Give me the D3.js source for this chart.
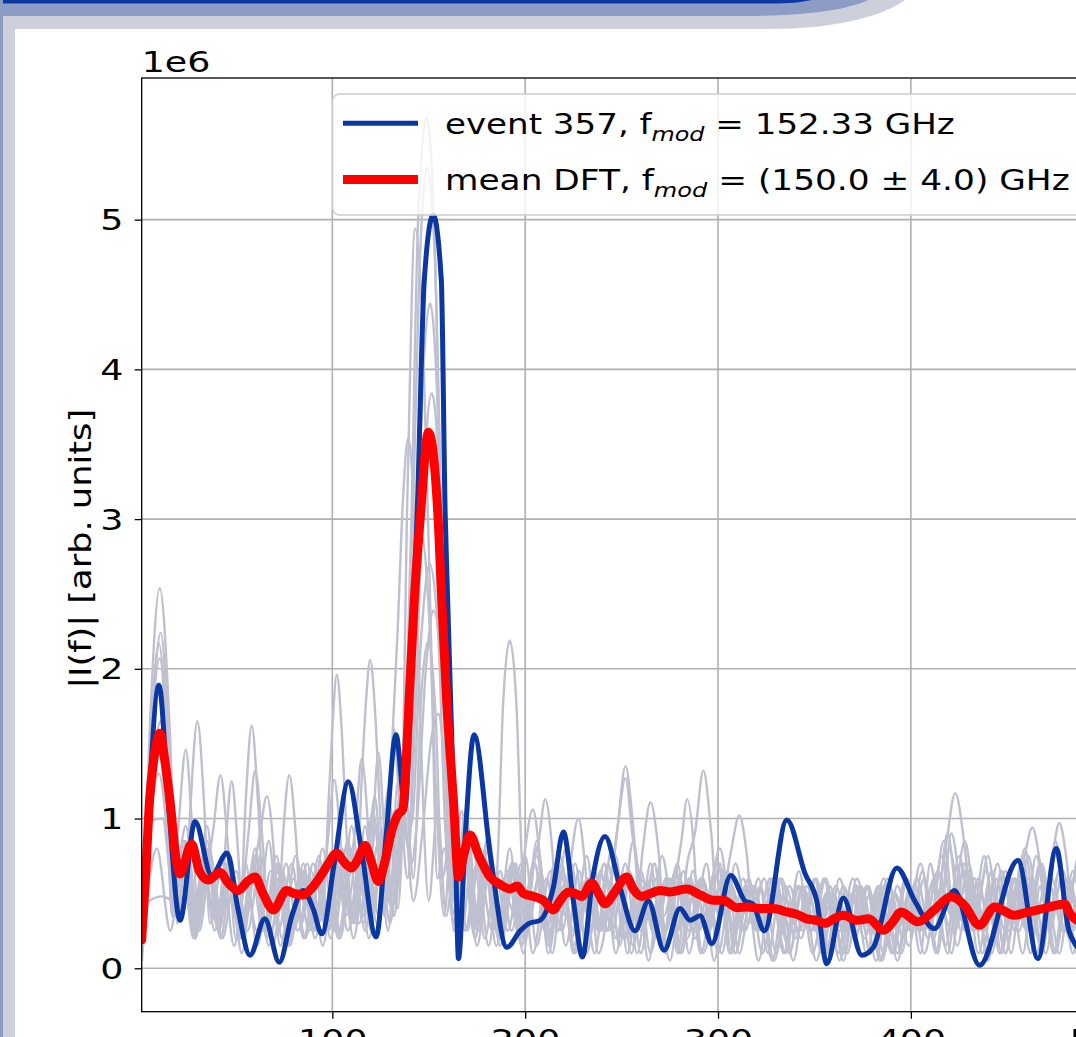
<!DOCTYPE html>
<html><head><meta charset="utf-8">
<script src="https://cdn.jsdelivr.net/npm/d3@7"></script>
<style>html,body{margin:0;padding:0;background:#fff;overflow:hidden}text{font-family:"DejaVu Sans",sans-serif}</style>
</head><body>
<svg id="chart" width="1076" height="1037"></svg>
<script>
// ---------- data (intensity in units of 1e6, frequency in GHz) ----------
const xTicks = [100, 200, 300, 400, 500];
const yTicks = [0, 1, 2, 3, 4, 5];
const yOffsetLabel = "1e6";
const yLabel = "|I(f)| [arb. units]";
const legendPrefix = ["event 357, f", "mean DFT, f"];
const legendSub = ["mod", "mod"];
const legendSuffix = [" = 152.33 GHz", " = (150.0 \u00b1 4.0) GHz"];

const eventTrace = [[1.14,0.2],[4,0.9],[10.1,1.89],[15,1.1],[21,0.32],[28.8,0.98],[37.4,0.62],[45.4,0.77],[51,0.4],[57.3,0.087],[65,0.33],[72.5,0.04],[79,0.35],[84.8,0.52],[90,0.4],[94.5,0.23],[101,0.7],[108.3,1.245],[115,0.8],[122.7,0.21],[128,0.9],[133,1.56],[137.7,1.08],[140,1.6],[142,2.4],[144,3.04],[147.7,4.6],[152.3,5.03],[156.5,4.6],[158.5,3.04],[159.8,2.46],[162,1.5],[164,0.7],[165.4,0.065],[169,0.9],[173.5,1.56],[182,0.75],[190.5,0.14],[197.4,0.25],[202,0.3],[207.7,0.32],[214.6,0.54],[219.8,0.91],[225,0.45],[229.7,0.076],[235,0.6],[241.4,0.88],[249,0.55],[257,0.25],[263.9,0.45],[272,0.12],[280.3,0.40],[285.5,0.32],[290.7,0.35],[296.8,0.165],[306.6,0.62],[314,0.45],[318,0.43],[324,0.25],[335.7,0.99],[345.2,0.63],[351.2,0.45],[356.4,0.03],[365,0.47],[374.6,0.087],[380.6,0.14],[392.7,0.67],[402,0.45],[412.2,0.265],[422.6,0.52],[435.6,0.02],[455.5,0.72],[465.9,0.065],[475.4,0.80],[482,0.25],[490,0.1]];

const meanTrace = [[1.14,0.19],[3.5,0.7],[5.2,1.12],[7.5,1.4],[10.6,1.57],[13,1.4],[15.8,1.12],[19.3,0.7],[21,0.63],[27,0.83],[31,0.65],[35.7,0.59],[41.8,0.64],[46,0.57],[51.2,0.52],[56,0.58],[59.9,0.61],[64,0.5],[69.4,0.39],[76.3,0.52],[80,0.5],[85,0.49],[89,0.53],[93.6,0.61],[98,0.7],[102.3,0.77],[106,0.71],[110,0.67],[113,0.72],[117,0.82],[120,0.72],[123.9,0.58],[127,0.7],[130.8,0.92],[134.2,1.03],[136.5,1.06],[138.2,1.35],[139.8,1.79],[142.5,2.46],[145.8,3.04],[149.8,3.58],[154.7,3.04],[156.7,2.46],[159.3,1.79],[162.8,1.12],[165.4,0.61],[168,0.75],[171.4,0.89],[176,0.75],[181.8,0.61],[187,0.56],[192.2,0.53],[196,0.55],[199,0.5],[204.3,0.48],[209.4,0.455],[214.6,0.39],[218,0.45],[222.4,0.51],[226,0.5],[229.4,0.48],[234.5,0.57],[238,0.5],[241.4,0.43],[246,0.5],[252.7,0.61],[256,0.53],[260.5,0.48],[265,0.5],[270,0.52],[275,0.51],[283.8,0.53],[290.7,0.49],[297.6,0.455],[302.8,0.455],[309.7,0.405],[315,0.41],[321.8,0.40],[328.7,0.40],[335.7,0.376],[341,0.36],[346,0.33],[351,0.32],[355.6,0.30],[360,0.33],[365,0.354],[372,0.32],[378,0.33],[385.8,0.254],[390,0.3],[395,0.376],[403.6,0.31],[412.2,0.39],[420.9,0.477],[427.8,0.42],[435.6,0.287],[443.4,0.41],[453.7,0.354],[459,0.37],[465.9,0.39],[472,0.41],[479.7,0.43],[482.5,0.365],[490,0.3]];

const gray1 = [[1.2,0.1],[5,1.5],[10.5,2.54],[16,1.5],[19.5,0.3],[24,0.75],[29,0.2],[35,0.85],[41,0.3],[47,0.65],[53,0.1],[60,0.8],[66,0.25],[72,0.35],[74.5,0.9],[77.7,1.29],[81,0.9],[84,0.3],[90,0.7],[97,0.25],[105,0.8],[111,0.3],[117,0.95],[123,0.3],[129,1.2],[134,0.4],[138,1.6],[141,3.0],[144.5,5.0],[148.9,5.68],[153,4.9],[156.5,3.0],[160,0.8],[163,0.3],[168,0.9],[173,0.3],[179,0.7],[185,0.15],[191,0.45],[196,0.3],[200,0.8],[204,1.06],[208,0.7],[212,0.15],[218,0.75],[224,0.2],[230,0.55],[236,0.1],[243,0.7],[249,0.15],[256,0.85],[262,0.3],[268,0.6],[275,0.05],[282,0.65],[288,0.2],[295,0.5],[302,0.1],[309,0.7],[316,0.3],[322,0.55],[329,0.05],[336,0.45],[343,0.2],[350,0.6],[357,0.1],[364,0.5],[371,0.2],[378,0.55],[385,0.05],[392,0.5],[399,0.15],[406,0.65],[413,0.1],[420,0.8],[427,0.3],[433,0.6],[440,0.1],[447,0.65],[454,0.3],[461,0.75],[468,0.1],[475,0.85],[482,0.2],[489,0.6],[496,0.15]];
const gray2 = [[1.2,0.3],[5.5,1.4],[11,2.24],[16.5,1.2],[20,0.45],[24,0.5],[26.5,1.1],[30,1.65],[33.5,1.1],[36.5,0.3],[43,0.7],[49,0.15],[55,0.55],[61,0.25],[67,0.85],[73,0.15],[80,0.6],[86,0.2],[93,0.75],[99,0.2],[106,0.7],[112,0.3],[115,1.2],[117.3,1.75],[119.6,2.06],[122,1.75],[124.5,1.1],[127.5,0.4],[132,1.05],[136,0.8],[141,2.6],[145,4.6],[149.2,5.35],[153.3,4.7],[157,2.5],[160.5,0.6],[164,0.45],[169,1.05],[175,0.3],[181,0.9],[187,0.2],[193,0.7],[199,0.1],[206,0.85],[212,0.3],[219,0.65],[225,0.1],[232,0.6],[238,0.25],[245,0.8],[251,0.2],[258,0.55],[264,0.05],[271,0.75],[278,0.25],[285,0.6],[291,0.1],[301,0.8],[308,0.25],[315,0.5],[321,0.05],[328,0.6],[335,0.2],[342,0.65],[349,0.1],[356,0.5],[363,0.25],[370,0.6],[377,0.1],[384,0.5],[391,0.2],[398,0.6],[405,0.1],[410,0.7],[414,0.5],[418,0.8],[423,1.17],[428,0.8],[432,0.3],[438,0.75],[444,0.2],[451,0.6],[458,0.1],[465,0.75],[472,0.25],[479,0.65],[486,0.1],[493,0.6],[500,0.2]];
const gray3 = [[1.2,0.2],[4.5,1.2],[10,2.17],[15.5,1.2],[18.5,0.35],[24,0.65],[30,0.25],[34,0.6],[38,0.9],[42,1.29],[46,0.8],[50,0.2],[55,0.7],[61,0.15],[68,0.65],[74,0.2],[81,0.75],[88,0.25],[95,0.8],[101,0.25],[108,0.85],[114,0.3],[121,1.05],[127,0.4],[132,1.6],[135.5,1.0],[139,3.2],[142.9,4.94],[147,4.2],[151,2.3],[154.5,0.6],[158,0.8],[163,0.3],[168,0.8],[174,0.2],[180,0.85],[186,0.2],[193,0.7],[199,0.2],[206,0.8],[212,0.1],[219,0.6],[225,0.25],[232,0.75],[238,0.1],[244,0.5],[248,0.95],[252,1.35],[256,0.95],[260,0.35],[265,0.7],[271,0.15],[278,0.65],[285,0.25],[292,0.6],[298,0.05],[305,0.65],[312,0.25],[319,0.55],[326,0.1],[333,0.6],[340,0.2],[347,0.5],[354,0.1],[361,0.55],[368,0.25],[375,0.5],[382,0.05],[389,0.55],[396,0.2],[403,0.6],[410,0.25],[417,0.85],[424,0.15],[431,0.6],[438,0.25],[445,0.7],[452,0.1],[459,0.8],[466,0.2],[473,0.6],[480,0.25],[487,0.75],[494,0.1],[500,0.5]];
const gray4 = [[1.2,0.25],[5,1.3],[10.5,2.07],[16,1.1],[19,0.4],[23,0.6],[29,0.2],[35,0.8],[41,0.25],[47,0.75],[52,0.3],[55,1.1],[58.2,1.62],[61.5,1.1],[65,0.3],[71,0.7],[77,0.15],[84,0.6],[90,0.25],[97,0.75],[103,0.2],[110,0.8],[116,0.3],[123,0.95],[129,0.25],[134,1.25],[139,0.6],[142.5,1.9],[146.5,3.8],[150.7,4.44],[155,3.6],[158.5,1.8],[162,0.35],[170,0.95],[176,0.25],[182,0.75],[188,0.2],[195,0.7],[201,0.25],[208,0.65],[214,0.1],[221,0.8],[227,0.2],[234,0.6],[240,0.25],[247,0.75],[253,0.1],[260,0.65],[266,0.25],[273,0.6],[279,0.1],[284,0.7],[288,0.9],[292.4,1.32],[296.5,0.9],[300,0.35],[305,0.6],[311,0.1],[318,0.55],[325,0.25],[332,0.6],[339,0.05],[346,0.55],[353,0.25],[360,0.5],[367,0.1],[374,0.55],[381,0.25],[388,0.6],[395,0.1],[402,0.55],[409,0.2],[416,0.75],[423,0.25],[430,0.7],[437,0.1],[444,0.6],[451,0.25],[458,0.75],[465,0.1],[472,0.55],[479,0.25],[486,0.65],[493,0.1],[500,0.55]];
const gray5 = [[1.2,0.1],[4.5,1.1],[9.5,1.9],[14.5,1.0],[17,0.35],[20.5,1.0],[24,1.46],[27.5,0.9],[31,0.25],[37,0.7],[43,0.2],[50,0.65],[56,0.25],[63,0.75],[69,0.15],[76,0.7],[82,0.25],[89,0.65],[95,0.15],[102,0.7],[108,0.25],[115,0.8],[119,0.4],[121,0.9],[123.9,1.44],[127,0.9],[130,0.45],[135,1.15],[139.5,0.8],[143,1.7],[147.5,3.3],[151.6,3.84],[156,3.1],[159.5,1.4],[163,0.25],[168,0.9],[174,0.2],[180,0.7],[186,0.25],[192,0.8],[198,0.15],[205,0.7],[211,0.25],[217,0.6],[221,0.35],[224,0.75],[227.6,1.0],[231,0.7],[234,0.25],[241,0.7],[247,0.1],[254,0.65],[260,0.25],[267,0.7],[273,0.1],[280,0.6],[287,0.25],[294,0.7],[300,0.1],[307,0.55],[314,0.25],[321,0.6],[328,0.05],[335,0.55],[342,0.25],[349,0.5],[356,0.1],[363,0.6],[370,0.25],[377,0.55],[384,0.05],[391,0.5],[398,0.25],[405,0.7],[412,0.2],[419,0.9],[426,0.25],[433,0.6],[440,0.05],[447,0.65],[454,0.25],[461,0.6],[468,0.1],[475,0.75],[482,0.25],[489,0.6],[496,0.1]];
const gray6 = [[1.2,0.35],[6,1.2],[11,1.65],[15.5,1.1],[18,0.55],[24,0.95],[30,0.35],[36,0.8],[42,0.4],[45,0.9],[47.8,1.25],[51,0.8],[54,0.25],[60,0.75],[66,0.2],[72,0.7],[79,0.25],[85,0.7],[91,0.2],[98,0.75],[104,0.25],[110,0.95],[116,0.35],[122,1.15],[127,0.35],[131,1.5],[134,2.3],[136.5,3.1],[139.4,3.54],[142.5,3.0],[146,1.5],[150,0.45],[154.5,1.05],[159,0.35],[164,0.75],[170,0.25],[176,0.7],[183,0.25],[186,0.8],[188.5,1.75],[192,2.19],[195.5,1.75],[198,0.8],[201,0.3],[205,0.7],[210,0.25],[215,0.7],[221,0.15],[228,0.65],[234,0.25],[241,0.7],[247,0.2],[254,0.6],[260,0.1],[267,0.7],[273,0.25],[278,0.6],[281,0.85],[284,1.13],[287.5,0.8],[290,0.25],[300,0.7],[306,0.1],[313,0.6],[320,0.25],[327,0.6],[334,0.1],[341,0.55],[348,0.25],[355,0.6],[362,0.1],[369,0.5],[376,0.2],[383,0.55],[390,0.1],[397,0.6],[404,0.25],[411,0.55],[418,0.15],[425,0.75],[432,0.25],[439,0.65],[446,0.1],[453,0.6],[460,0.25],[467,0.7],[474,0.1],[481,0.6],[488,0.25],[495,0.65]];
const gray7 = [[1.2,0.5],[5,0.98],[12,1.0],[17,0.55],[21,0.6],[24,0.85],[28,0.3],[33,0.75],[39,0.25],[45,0.7],[51,0.3],[56.5,0.9],[60,1.32],[63.5,0.9],[67,0.35],[72,0.6],[78,0.15],[85,0.65],[91,0.25],[98,0.7],[104,0.2],[111,0.75],[117,0.25],[124,0.85],[130,0.3],[136,1.05],[141,0.7],[144,1.0],[148.5,2.0],[152.5,2.39],[156.5,2.0],[160,1.1],[164,0.4],[169,0.95],[175,0.25],[181,0.8],[187,0.15],[193,0.65],[199,0.25],[206,0.75],[212,0.2],[219,0.7],[225,0.15],[232,0.6],[238,0.25],[244,0.55],[248,0.95],[252,1.27],[256,0.85],[260,0.6],[263,0.55],[267,0.2],[274,0.6],[280,0.1],[287,0.65],[294,0.25],[301,0.7],[307,0.1],[314,0.55],[321,0.25],[328,0.5],[335,0.1],[342,0.55],[349,0.25],[356,0.6],[363,0.05],[370,0.5],[377,0.25],[384,0.55],[391,0.1],[398,0.6],[405,0.25],[412,0.6],[419,0.1],[426,0.7],[433,0.25],[440,0.75],[447,0.1],[454,0.6],[461,0.25],[468,0.7],[475,0.1],[482,0.6],[489,0.25],[496,0.55]];
const gray8 = [[1.2,0.05],[5,0.45],[12,0.48],[18,0.45],[24,0.75],[30,0.3],[36,0.7],[42,0.2],[48,0.65],[54,0.25],[61,0.7],[67,0.15],[74,0.65],[80,0.25],[87,0.7],[92,0.3],[95,0.35],[98,1.1],[100,1.6],[102.3,1.96],[104.8,1.6],[107,1.0],[110,0.3],[115,0.75],[120,0.25],[126,0.9],[132,0.35],[138,1.15],[142,0.6],[146,1.8],[149.8,2.19],[153.5,1.7],[157,0.6],[161,0.85],[169,0.25],[175,0.7],[181,0.15],[187,0.65],[193,0.25],[200,0.75],[206,0.15],[213,0.65],[219,0.25],[226,0.7],[232,0.1],[239,0.65],[245,0.25],[252,0.7],[258,0.1],[265,0.6],[272,0.25],[279,0.7],[285,0.1],[292,0.6],[299,0.25],[303,0.65],[309,0.1],[316,0.55],[323,0.25],[330,0.6],[337,0.1],[344,0.55],[351,0.25],[358,0.5],[365,0.05],[372,0.55],[379,0.25],[386,0.6],[393,0.1],[400,0.55],[407,0.25],[414,0.65],[421,0.1],[428,0.7],[435,0.25],[442,0.65],[449,0.1],[455,0.5],[459,0.75],[463,0.94],[467,0.7],[471,0.3],[477,0.65],[484,0.1],[491,0.6],[498,0.2]];
const gray9 = [[1.2,0.2],[5,0.9],[10,1.3],[15,0.8],[17.5,0.4],[23,0.85],[29,0.35],[35,0.95],[41,0.25],[47,0.75],[53,0.25],[59,0.65],[62.5,0.9],[66,1.15],[69.5,0.8],[72,0.25],[79,0.7],[85,0.2],[92,0.65],[98,0.25],[105,0.7],[111,0.2],[118,0.8],[124,0.35],[130,0.95],[134,0.55],[138,1.5],[142,2.5],[146,2.9],[150,2.4],[154,1.1],[158,0.35],[162,0.95],[167,0.25],[173,0.8],[179,0.2],[185,0.6],[191,0.25],[198,0.7],[204,0.1],[211,0.6],[217,0.25],[224,0.7],[230,0.1],[237,0.55],[243,0.25],[250,0.6],[256,0.15],[261,0.8],[265,1.11],[269,0.8],[272,0.35],[278,0.65],[284,0.2],[291,0.6],[297,0.15],[303,0.5],[307,0.8],[311,1.02],[315,0.75],[318,0.35],[324,0.6],[330,0.1],[337,0.55],[344,0.25],[351,0.6],[358,0.1],[365,0.55],[372,0.25],[379,0.5],[386,0.1],[393,0.55],[400,0.25],[407,0.6],[414,0.1],[418,0.6],[421,0.9],[425,0.6],[428,0.25],[435,0.6],[442,0.1],[449,0.65],[456,0.25],[463,0.6],[470,0.1],[477,0.65],[484,0.25],[491,0.6],[498,0.15]];
const gray10 = [[1.2,0.1],[9,0.8],[16,0.25],[22,0.7],[28,0.2],[34,0.6],[40,0.3],[46,0.7],[52,0.2],[58,0.65],[64,0.25],[71,0.75],[77,0.2],[84,0.65],[90,0.25],[95,0.5],[98,0.9],[101,1.26],[104,0.9],[107,0.35],[113,0.75],[119,0.2],[125,0.7],[131,0.4],[137,1.05],[142,0.45],[147,0.95],[151,1.5],[155,1.7],[159,1.2],[163,0.25],[169,0.75],[175,0.15],[181,0.6],[187,0.25],[194,0.7],[200,0.2],[207,0.6],[213,0.25],[220,0.55],[226,0.1],[233,0.6],[239,0.25],[246,0.55],[252,0.2],[259,0.6],[265,0.1],[272,0.55],[279,0.25],[286,0.6],[292,0.1],[302,0.55],[309,0.25],[316,0.6],[323,0.1],[330,0.5],[337,0.25],[344,0.55],[351,0.05],[358,0.5],[365,0.25],[372,0.55],[379,0.1],[386,0.5],[393,0.25],[400,0.55],[407,0.1],[414,0.5],[421,0.25],[428,0.7],[435,0.1],[442,0.55],[449,0.25],[456,0.6],[462,0.1],[467,0.55],[470,0.4],[473.5,0.75],[477,0.97],[480.5,0.75],[484,0.35],[491,0.55],[498,0.1]];
const gray11 = [[1.2,0.3],[5,1.0],[10,1.45],[14.5,0.9],[17,0.35],[23,0.75],[29,0.25],[35,0.7],[41,0.25],[47,0.6],[53,0.2],[59,0.7],[65,0.25],[72,0.65],[78,0.2],[85,0.6],[91,0.3],[97,0.75],[103,0.25],[109,0.65],[112,0.95],[115.2,1.40],[118.5,0.95],[121,0.35],[127,0.95],[132,0.35],[137,1.25],[141,0.95],[146,2.2],[150.5,2.7],[155,2.2],[158.5,0.95],[162,0.45],[167,1.05],[173,0.25],[179,0.75],[185,0.25],[191,0.65],[197,0.2],[203,0.65],[207,0.85],[210.4,1.13],[214,0.8],[217,0.25],[223,0.6],[229,0.1],[236,0.65],[242,0.25],[249,0.6],[255,0.1],[262,0.55],[268,0.25],[275,0.6],[281,0.1],[288,0.55],[295,0.25],[302,0.6],[309,0.1],[316,0.55],[323,0.25],[330,0.6],[337,0.1],[344,0.55],[351,0.25],[358,0.55],[365,0.1],[372,0.6],[379,0.25],[386,0.55],[393,0.05],[400,0.5],[407,0.25],[414,0.65],[421,0.35],[428,0.85],[435,0.25],[442,0.55],[449,0.1],[456,0.6],[463,0.25],[470,0.55],[477,0.1],[484,0.65],[491,0.25],[498,0.55]];
const grayTraces = [gray1, gray2, gray3, gray4, gray5, gray6, gray7, gray8, gray9, gray10, gray11];

// ---------- layout ----------
const W = 1076, H = 1037;
const plot = {left: 141.7, top: 78, right: 1103.7, bottom: 1011.7};
const SX = 1.3;       // horizontal stretch of the source image's text
const FS = 28;
const legendEnds = [955, 1070];

const svg = d3.select("#chart");

// slide decoration
const colDark = "#0a37a2", colMid = "#8d9cc4", colLight = "#cdcfdb";
svg.append("rect").attr("x",0).attr("y",0).attr("width",W).attr("height",H).attr("fill","#fff");
svg.append("path").attr("fill",colLight)
  .attr("d","M0,0 L905,0 C880,18 830,29 770,29 L0,29 Z");
svg.append("path").attr("fill",colMid)
  .attr("d","M0,0 L868,0 C845,11 800,16 740,16 L0,16 Z");
svg.append("path").attr("fill",colDark)
  .attr("d","M0,0 L812,0 C800,2.5 790,3.5 770,3.5 L0,3.5 Z");
svg.append("rect").attr("x",0).attr("y",0).attr("width",3).attr("height",H).attr("fill",colMid);
svg.append("rect").attr("x",3).attr("y",16).attr("width",12).attr("height",H-16).attr("fill",colLight);

// scales
const x = d3.scaleLinear().domain([1.14, 500]).range([plot.left, plot.right]);
const y = d3.scaleLinear().domain([-0.29, 5.946]).range([plot.bottom, plot.top]);

svg.append("defs").append("clipPath").attr("id","clip")
  .append("rect").attr("x",plot.left).attr("y",plot.top)
  .attr("width",plot.right-plot.left).attr("height",plot.bottom-plot.top);

// grid
const grid = svg.append("g");
grid.selectAll(".gx").data(xTicks).join("line")
  .attr("x1",d=>x(d)).attr("x2",d=>x(d)).attr("y1",plot.top).attr("y2",plot.bottom)
  .attr("stroke","#b0b0b0").attr("stroke-width",1.6);
grid.selectAll(".gy").data(yTicks).join("line")
  .attr("x1",plot.left).attr("x2",plot.right).attr("y1",d=>y(d)).attr("y2",d=>y(d))
  .attr("stroke","#b0b0b0").attr("stroke-width",1.6);

// lines
const line = d3.line().x(d=>x(d[0])).y(d=>y(d[1])).curve(d3.curveMonotoneX);
const lines = svg.append("g").attr("clip-path","url(#clip)");
lines.selectAll(".gray").data(grayTraces).join("path")
  .attr("d",line).attr("fill","none").attr("stroke","#bec0cf").attr("stroke-width",2.4)
  .attr("stroke-linejoin","round");
lines.append("path").datum(eventTrace).attr("d",line).attr("fill","none")
  .attr("stroke","#0a37a2").attr("stroke-width",5).attr("stroke-linejoin","round");
lines.append("path").datum(meanTrace).attr("d",line).attr("fill","none")
  .attr("stroke","#ff0000").attr("stroke-width",9).attr("stroke-linejoin","round").attr("stroke-linecap","round");

// axes
const ax = svg.append("g").attr("transform",`translate(0,${plot.bottom})`)
  .call(d3.axisBottom(x).tickValues(xTicks).tickSize(7).tickPadding(11).tickFormat(d3.format("d")));
const ay = svg.append("g").attr("transform",`translate(${plot.left},0)`)
  .call(d3.axisLeft(y).tickValues(yTicks).tickSize(7).tickPadding(7).tickFormat(d3.format("d")));
[ax, ay].forEach(g => {
  g.select(".domain").remove();
  g.selectAll(".tick line").attr("stroke","#000").attr("stroke-width",1.3);
  g.selectAll(".tick text").attr("fill","#000").attr("font-size",FS)
    .attr("font-family","DejaVu Sans");
});
ax.selectAll(".tick text").attr("transform",`scale(${SX},1)`).attr("dy","0.72em");
ay.selectAll(".tick text").attr("transform",`scale(${SX},1)`).attr("dy","0.36em");

// spines
svg.append("rect").attr("x",plot.left).attr("y",plot.top)
  .attr("width",plot.right-plot.left).attr("height",plot.bottom-plot.top)
  .attr("fill","none").attr("stroke","#000").attr("stroke-width",1.3);

// offset text and y label
svg.append("text").attr("transform",`translate(${plot.left},72) scale(${SX},1)`)
  .attr("font-size",FS).attr("fill","#000").text(yOffsetLabel);
svg.append("text").attr("transform",`translate(91,${(plot.top+plot.bottom)/2 + 4}) rotate(-90)`)
  .attr("text-anchor","middle").attr("font-size",30).attr("fill","#000")
  .attr("textLength",280).attr("lengthAdjust","spacingAndGlyphs").text(yLabel);

// legend
const lg = svg.append("g");
lg.append("rect").attr("x",332.7).attr("y",94).attr("width",800).attr("height",121).attr("rx",7)
  .attr("fill","#fff").attr("fill-opacity",0.8).attr("stroke","#cccccc").attr("stroke-width",1.3);
const handleStyle = [{c:"#0a37a2", w:5}, {c:"#ff0000", w:9}];
legendPrefix.forEach((p,i) => {
  const cy = 123.3 + i*56.2;
  lg.append("line").attr("x1",343).attr("x2",418).attr("y1",cy).attr("y2",cy)
    .attr("stroke",handleStyle[i].c).attr("stroke-width",handleStyle[i].w);
  const t = lg.append("text").attr("transform",`translate(445,${cy+10.5})`)
    .attr("font-size",29).attr("fill","#000");
  t.append("tspan").text(p);
  t.append("tspan").attr("font-style","italic").attr("font-size",29*0.7).attr("dy",7).text(legendSub[i]);
  t.append("tspan").attr("dy",-7).text(legendSuffix[i]);
  const w = t.node().getBBox().width;
  const s = (legendEnds[i] - 445) / w;
  t.attr("transform",`translate(445,${cy+10.5}) scale(${s},1)`);
});
</script>
</body></html>
